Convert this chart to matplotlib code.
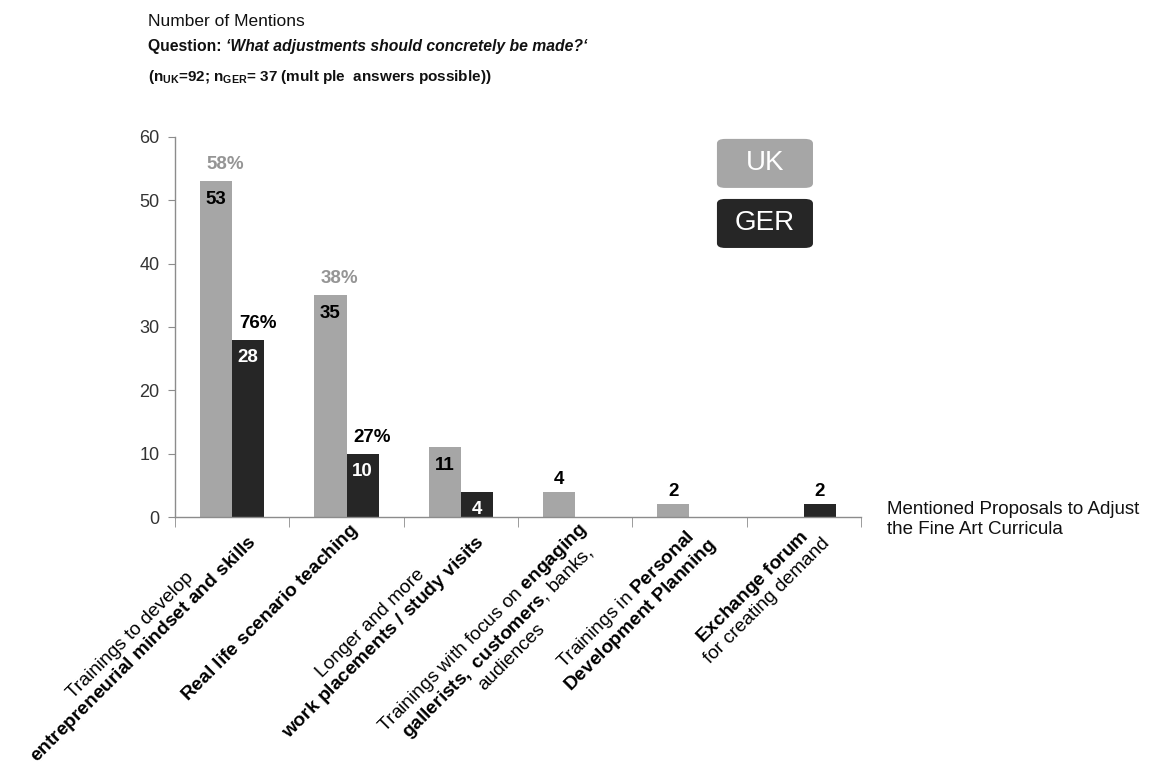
import matplotlib
matplotlib.use("Agg")
import matplotlib.pyplot as plt
from matplotlib.patches import FancyBboxPatch
import matplotlib.transforms as mtransforms

plt.rcParams['font.family'] = ['Liberation Sans', 'DejaVu Sans']
plt.rcParams['mathtext.fontset'] = 'custom'
plt.rcParams['mathtext.rm'] = 'Liberation Sans'
plt.rcParams['mathtext.bf'] = 'Liberation Sans:bold'
plt.rcParams['mathtext.it'] = 'Liberation Sans:italic'

# ---------------- data ----------------
categories = [
    "Trainings to develop\n$\\bf{entrepreneurial\\ mindset\\ and\\ skills}$",
    "$\\bf{Real\\ life\\ scenario\\ teaching}$",
    "Longer and more\n$\\bf{work\\ placements\\ /\\ study\\ visits}$",
    "Trainings with focus on $\\bf{engaging}$\n$\\bf{gallerists,\\ customers}$, banks,\naudiences",
    "Trainings in $\\bf{Personal}$\n$\\bf{Development\\ Planning}$",
    "$\\bf{Exchange\\ forum}$\nfor creating demand",
]
uk_values = [53, 35, 11, 4, 2, 0]
ger_values = [28, 10, 4, 0, 0, 2]
uk_pct = ["58%", "38%", "", "", "", ""]
ger_pct = ["76%", "27%", "", "", "", ""]
series_names = ["UK", "GER"]
y_ticks = [0, 10, 20, 30, 40, 50, 60]

title = "Number of Mentions"
question_lead = "Question: "
question_text = "\u2018What adjustments should concretely be made?\u2018"
sample_note = "(n$_{\\bf UK}$=92; n$_{\\bf GER}$= 37 (mult ple  answers possible))"
x_axis_label = "Mentioned Proposals to Adjust\nthe Fine Art Curricula"

uk_color = "#A6A6A6"
ger_color = "#262626"
uk_pct_color = "#959595"
axis_color = "#8C8C8C"

# ---------------- figure ----------------
fig = plt.figure(figsize=(11.51, 7.78), dpi=100)
ax = fig.add_axes([175 / 1151, 1 - 517 / 778, 686 / 1151, 380 / 778])

n = len(categories)
xs = list(range(n))
w = 0.28
uk_x = [x - w / 2 for x in xs]
ger_x = [x + w / 2 for x in xs]
ax.bar(uk_x, uk_values, width=w, color=uk_color, zorder=2)
ax.bar(ger_x, ger_values, width=w, color=ger_color, zorder=2)

ax.set_xlim(-0.5, n - 0.5)
ax.set_ylim(0, 60)
ax.set_yticks(y_ticks)
ax.set_yticklabels([str(t) for t in y_ticks], fontsize=13, color="#333333")

for s in ["top", "right"]:
    ax.spines[s].set_visible(False)
for s in ["left", "bottom"]:
    ax.spines[s].set_color(axis_color)
    ax.spines[s].set_linewidth(1.0)
ax.tick_params(axis="y", length=5, color=axis_color, direction="out", pad=6)

# category boundaries as minor ticks
ax.set_xticks([x - 0.5 for x in range(n + 1)], minor=True)
ax.tick_params(axis="x", which="minor", length=7, color=axis_color, direction="out")
ax.set_xticks(xs)
ax.set_xticklabels(categories, rotation=45, ha="right", va="top",
                   rotation_mode="anchor", fontsize=13.8, multialignment="center",
                   linespacing=1.0)
ax.tick_params(axis="x", which="major", length=0, pad=2)
offset = mtransforms.ScaledTranslation(2 / 100, 0, fig.dpi_scale_trans)
for lab in ax.get_xticklabels():
    lab.set_transform(lab.get_transform() + offset)

# value labels
def px(v):
    return v * 72 / 100.0

for i in range(n):
    both = uk_values[i] > 0 and ger_values[i] > 0
    for xpos, val, col_in in ((uk_x[i], uk_values[i], "black"), (ger_x[i], ger_values[i], "white")):
        if val <= 0:
            continue
        if both:
            ax.annotate(str(val), (xpos, val), xytext=(0, -px(18)), textcoords="offset points",
                        ha="center", va="center", fontsize=13.5, fontweight="bold",
                        color=col_in, zorder=3)
        else:
            ax.annotate(str(val), (xpos, val), xytext=(0, px(4)), textcoords="offset points",
                        ha="center", va="bottom", fontsize=13.5, fontweight="bold",
                        color="black", zorder=3)
    if uk_pct[i]:
        ax.annotate(uk_pct[i], (uk_x[i], uk_values[i]), xytext=(px(9), px(8)),
                    textcoords="offset points", ha="center", va="bottom",
                    fontsize=13.5, fontweight="bold", color=uk_pct_color)
    if ger_pct[i]:
        ax.annotate(ger_pct[i], (ger_x[i], ger_values[i]), xytext=(px(10), px(8)),
                    textcoords="offset points", ha="center", va="bottom",
                    fontsize=13.5, fontweight="bold", color="black")

# custom legend boxes
legend_boxes = [(series_names[0], uk_color, 0.866, 0.995), (series_names[1], ger_color, 0.708, 0.837)]
for name, col, y0, y1 in legend_boxes:
    x0, x1 = 0.790, 0.930
    box = FancyBboxPatch((x0, y0), x1 - x0, y1 - y0, transform=ax.transAxes,
                         boxstyle="round,pad=0,rounding_size=0.012",
                         facecolor=col, edgecolor="none", clip_on=False, zorder=4)
    ax.add_patch(box)
    ax.text((x0 + x1) / 2, (y0 + y1) / 2, name, transform=ax.transAxes,
            ha="center", va="center", fontsize=20, color="white", zorder=5)

# x-axis caption
fig.text(887 / 1151, 1 - 501 / 778, x_axis_label, ha="left", va="top",
         fontsize=13.5, color="#111111", linespacing=1.2)

# titles
fig.text(148 / 1151, 1 - 21 / 778, title, ha="left", va="center", fontsize=12.5, color="#111111")
t1 = fig.text(148 / 1151, 1 - 47 / 778, question_lead, ha="left", va="center",
              fontsize=11.3, fontweight="bold", color="#111111")
fig.canvas.draw()
bb = t1.get_window_extent(renderer=fig.canvas.get_renderer())
fig.text(bb.x1 / fig.bbox.width, 1 - 47 / 778, question_text, ha="left", va="center",
         fontsize=11.3, fontweight="bold", fontstyle="italic", color="#111111")
fig.text(148 / 1151, 1 - 77 / 778, sample_note, ha="left", va="center",
         fontsize=11, fontweight="bold", color="#111111")

fig.savefig("out.png", dpi=100)
